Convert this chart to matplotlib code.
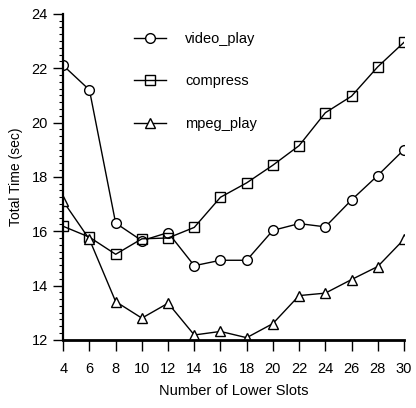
import matplotlib.pyplot as plt
from matplotlib.ticker import MultipleLocator
from matplotlib import rcParams

rcParams['font.family'] = 'Liberation Sans'
rcParams['font.size'] = 10

slots = [4, 6, 8, 10, 12, 14, 16, 18, 20, 22, 24, 26, 28, 30]
video_play = [22.1, 21.2, 16.3, 15.65, 15.95, 14.73, 14.93, 14.93, 16.03, 16.28, 16.16, 17.15, 18.05, 19.0]
compress = [16.18, 15.78, 15.15, 15.72, 15.75, 16.14, 17.25, 17.78, 18.43, 19.15, 20.36, 20.97, 22.05, 22.95]
mpeg_play = [17.1, 15.7, 13.41, 12.8, 13.35, 12.18, 12.31, 12.08, 12.6, 13.63, 13.72, 14.22, 14.7, 15.7]

fig = plt.figure(figsize=(4.16, 4.08), dpi=100)
ax = fig.add_axes([0.152, 0.167, 0.819, 0.799])

ax.plot(slots, video_play, color='black', lw=1, marker='o', ms=7, mfc='white', mec='black', mew=1, label='video_play')
ax.plot(slots, compress, color='black', lw=1, marker='s', ms=7, mfc='none', mec='black', mew=1, label='compress')
ax.plot(slots, mpeg_play, color='black', lw=1, marker='^', ms=7, mfc='white', mec='black', mew=1, label='mpeg_play')

ax.set_xlim(4, 30)
ax.set_ylim(12, 24)
ax.xaxis.set_major_locator(MultipleLocator(2))
ax.yaxis.set_major_locator(MultipleLocator(2))
ax.yaxis.set_minor_locator(MultipleLocator(0.25))
ax.tick_params(axis='x', which='major', direction='out', length=8, width=1, pad=8, labelsize=10.5)
ax.tick_params(axis='y', which='major', direction='out', length=7, width=1, pad=4, labelsize=10.5)
ax.tick_params(axis='y', which='minor', direction='out', length=3, width=0.8)

ax.spines['top'].set_visible(False)
ax.spines['right'].set_visible(False)
ax.spines['left'].set_linewidth(1.6)
ax.spines['bottom'].set_linewidth(2)
for sp in ax.spines.values():
    sp.set_clip_on(False)

ax.set_xlabel('Number of Lower Slots', fontsize=10.5, labelpad=6)
ax.set_ylabel('Total Time (sec)', fontsize=10, labelpad=6)

ax.legend(loc='upper left', bbox_to_anchor=(0.17, 0.985), frameon=False, handlelength=2.2,
          handletextpad=1.3, labelspacing=1.95, fontsize=10.5)

plt.savefig('out.png', dpi=100)
